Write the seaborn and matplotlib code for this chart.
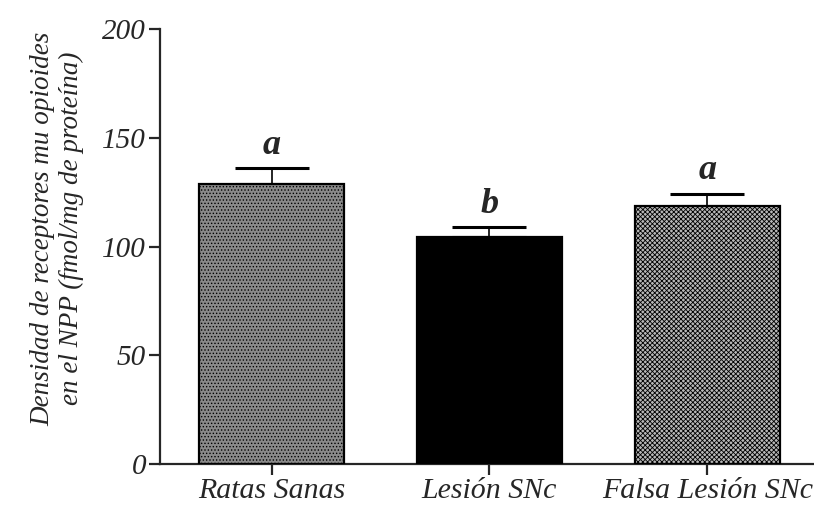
import numpy as np
import pandas as pd
import seaborn as sns
import matplotlib.pyplot as plt

# datos
grupos = ['Ratas Sanas', 'Lesión SNc', 'Falsa Lesión SNc']
medias = [129.0, 104.5, 118.8]
errores = [7.0, 4.5, 5.5]
letras = ['a', 'b', 'a']

colores = ['#8a8a8a', '#000000', '#b8b8b8']
tramas = ['.....', '', 'xxxxxxx']

df = pd.DataFrame({'grupo': grupos, 'media': medias})

sns.set_style('ticks')
plt.rcParams['font.family'] = 'serif'
plt.rcParams['font.serif'] = ['Liberation Serif', 'DejaVu Serif']
plt.rcParams['hatch.linewidth'] = 0.6

fig = plt.figure(figsize=(8.14, 5.07), dpi=100)
ax = fig.add_axes([0.1966, 0.0848, 0.8034, 0.8574])

sns.barplot(data=df, x='grupo', y='media', ax=ax, width=0.667,
            edgecolor='black', linewidth=1.6, errorbar=None)

for barra, c, h in zip(ax.patches, colores, tramas):
    barra.set_facecolor(c)
    barra.set_hatch(h)
    barra.set_zorder(3)

x = np.arange(len(grupos))
ax.errorbar(x, medias, yerr=[np.zeros(len(errores)), errores], fmt='none',
            ecolor='black', elinewidth=1.2, capsize=26.5, capthick=2.2, zorder=2)

for xi, m, e, l in zip(x, medias, errores, letras):
    ax.text(xi, m + e + 3, l, ha='center', va='bottom', fontsize=26,
            fontweight='bold', fontstyle='italic')

ax.set_ylim(0, 200)
ax.set_xlim(-0.512, 2.49)
ax.set_yticks([0, 50, 100, 150, 200])
ax.set_yticklabels(['0', '50', '100', '150', '200'], fontsize=21, fontstyle='italic')
ax.set_xticks(x)
ax.set_xticklabels(grupos, fontsize=21.5, fontstyle='italic')
ax.set_xlabel('')
ax.set_ylabel('Densidad de receptores mu opioides\nen el NPP (fmol/mg de proteína)',
              fontsize=19.5, fontstyle='italic')
ax.yaxis.set_label_coords(-0.116, 0.542)

sns.despine(ax=ax)
ax.spines['left'].set_linewidth(1.6)
ax.spines['bottom'].set_linewidth(1.6)
ax.tick_params(axis='both', length=8, width=1.6, pad=2)

plt.savefig('out.png', dpi=100)
